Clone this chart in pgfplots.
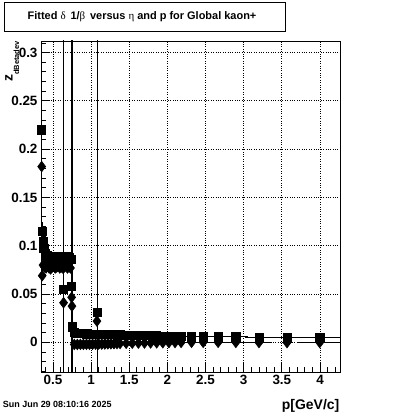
\documentclass[border=0pt]{standalone}
\usepackage{fontspec}
\setmainfont{Liberation Sans}
\newfontfamily\grfont{Liberation Serif}
\usepackage{pgfplots}
\pgfplotsset{compat=1.18}
\usepackage{pgfplotstable}

\pgfplotstableread{
x y ex ey
0.353 0.220 0 0.075
0.360 0.115 0 0.010
0.370 0.105 0 0.008
0.380 0.097 0 0.006
0.400 0.092 0 0.005
0.420 0.090 0 0.004
0.440 0.088 0 0.004
0.460 0.086 0 0.004
0.480 0.085 0 0.004
0.500 0.087 0 0.004
0.520 0.089 0 0.004
0.540 0.087 0 0.004
0.560 0.086 0 0.004
0.580 0.088 0 0.004
0.600 0.089 0 0.004
0.620 0.087 0 0.004
0.640 0.055 0 0.5
0.660 0.088 0 0.004
0.680 0.089 0 0.004
0.700 0.087 0 0.004
0.720 0.088 0 0.004
0.735 0.086 0 0.004
0.745 0.058 0 0.5
0.755 0.016 0 0.5
0.78 0.0105 0 0.001
0.82 0.0095 0 0.001
0.86 0.0092 0 0.001
0.90 0.0090 0 0.001
0.94 0.0088 0 0.001
0.98 0.0087 0 0.001
1.02 0.0086 0 0.001
1.06 0.0085 0 0.001
1.077 0.031 0 0.5
1.10 0.0084 0 0.001
1.14 0.0083 0 0.001
1.18 0.0082 0 0.001
1.22 0.0081 0 0.001
1.26 0.0080 0 0.001
1.30 0.0080 0 0.001
1.34 0.0079 0 0.001
1.38 0.0078 0 0.001
1.42 0.0077 0 0.001
1.46 0.0076 0 0.001
1.50 0.0075 0 0.001
1.54 0.0074 0 0.001
1.58 0.0073 0 0.001
1.62 0.0072 0 0.001
1.66 0.0071 0 0.001
1.70 0.0070 0 0.001
1.74 0.0070 0 0.001
1.78 0.0069 0 0.001
1.82 0.0068 0 0.001
1.86 0.0067 0 0.001
1.90 0.0066 0 0.001
1.94 0.0066 0 0.001
1.98 0.0065 0 0.001
2.02 0.0064 0 0.001
2.06 0.0063 0 0.001
2.10 0.0062 0 0.001
2.14 0.0061 0 0.001
2.18 0.0060 0 0.001
2.317 0.0058 0.080 0.001
2.469 0.0058 0.100 0.001
2.665 0.0057 0.120 0.001
2.897 0.0057 0.155 0.001
3.200 0.0056 0.185 0.001
3.568 0.0056 0.215 0.001
3.996 0.0056 0.300 0.001
}\sqdata

\pgfplotstableread{
x y ex ey
0.353 0.182 0 0.040
0.360 0.069 0 0.006
0.370 0.080 0 0.005
0.390 0.078 0 0.004
0.410 0.077 0 0.004
0.430 0.079 0 0.004
0.450 0.077 0 0.004
0.470 0.076 0 0.004
0.490 0.078 0 0.004
0.510 0.079 0 0.004
0.530 0.077 0 0.004
0.550 0.078 0 0.004
0.570 0.079 0 0.004
0.590 0.077 0 0.004
0.610 0.078 0 0.004
0.630 0.077 0 0.004
0.640 0.041 0 0.5
0.650 0.078 0 0.004
0.670 0.079 0 0.004
0.690 0.077 0 0.004
0.710 0.078 0 0.004
0.730 0.077 0 0.004
0.745 0.0466 0 0.5
0.750 0.0375 0 0.006
0.78 -0.0022 0 0.001
0.82 -0.0022 0 0.001
0.86 -0.0021 0 0.001
0.90 -0.0021 0 0.001
0.94 -0.0020 0 0.001
0.98 -0.0020 0 0.001
1.02 -0.0019 0 0.001
1.06 -0.0019 0 0.001
1.077 0.022 0 0.5
1.10 -0.0018 0 0.001
1.14 -0.0018 0 0.001
1.18 -0.0017 0 0.001
1.22 -0.0016 0 0.001
1.26 -0.0015 0 0.001
1.30 -0.0014 0 0.001
1.34 -0.0013 0 0.001
1.38 -0.0012 0 0.001
1.46 -0.0010 0 0.001
1.54 -0.0009 0 0.001
1.62 -0.0008 0 0.001
1.70 -0.0007 0 0.001
1.78 -0.0006 0 0.001
1.86 -0.0005 0 0.001
1.94 -0.0004 0 0.001
2.02 -0.0003 0 0.001
2.10 -0.0002 0 0.001
2.18 -0.0001 0 0.001
2.317 0.0000 0.080 0.001
2.469 0.0000 0.100 0.001
2.665 0.0000 0.120 0.001
2.897 -0.0001 0.155 0.001
3.200 -0.0002 0.160 0.001
3.568 -0.0003 0.060 0.001
3.996 -0.0002 0.300 0.001
}\dmdata

\begin{document}
\begin{tikzpicture}[x=1bp,y=1bp]
\path (0,0) rectangle (400,414);
\begin{axis}[
  at={(41bp,42bp)}, anchor=south west,
  width=299bp, height=331bp, scale only axis,
  xmin=0.344, xmax=4.262, ymin=-0.0307, ymax=0.312,
  axis line style={line width=0.8bp},
  tick pos=left, tick align=inside,
  major tick length=9bp, minor tick length=4.5bp,
  xtick={0.5,1,1.5,2,2.5,3,3.5,4},
  ytick={0,0.05,0.1,0.15,0.2,0.25,0.3},
  minor xtick={0.4,0.5,...,4.25},
  minor ytick={-0.03,-0.02,...,0.31},
  grid=major, major grid style={black, dotted, line width=0.8bp},
  tick style={black, line width=0.8bp},
  ticklabel style={font=\fontsize{13.5}{14}\selectfont\bfseries},
  /pgf/number format/assume math mode=true,
  xticklabel style={/pgf/number format/fixed},
  yticklabel style={/pgf/number format/fixed, /pgf/number format/precision=2},
  clip=true,
]
\addplot[black, only marks, mark=square*, mark size=4.1bp,
  mark options={line width=0.6bp},
  error bars/.cd, x dir=both, x explicit, y dir=both, y explicit,
  error bar style={line width=0.8bp, black}, error mark=none]
  table[x=x, y=y, x error=ex, y error=ey] {\sqdata};
\addplot[black, only marks, mark=diamond*, mark size=5.3bp,
  mark options={line width=0.6bp},
  error bars/.cd, x dir=both, x explicit, y dir=both, y explicit,
  error bar style={line width=0.8bp, black}, error mark=none]
  table[x=x, y=y, x error=ex, y error=ey] {\dmdata};
\end{axis}
\draw[line width=0.8bp] (4,383) rectangle (285,412);
\node[font=\fontsize{11}{11}\selectfont\bfseries] at (142,397.5)
  {Fitted {\grfont\mdseries δ}\, 1/{\grfont\mdseries β}\, versus {\grfont\mdseries η} and p for Global kaon+};
\node[anchor=base west, inner sep=0, font=\fontsize{9}{9}\selectfont\bfseries] at (2.7,6.7) {Sun Jun 29 08:10:16 2025};
\node[anchor=base east, inner sep=0, font=\fontsize{14}{14}\selectfont\bfseries] at (339.5,4.7) {p[GeV/c]};
\node[rotate=90, anchor=base east, inner sep=0] at (12.7,373)
  {{\fontsize{14}{14}\selectfont\bfseries z}\raisebox{-6.5bp}{\fontsize{7.5}{8}\selectfont\bfseries dBetadev}};
\end{tikzpicture}
\end{document}
